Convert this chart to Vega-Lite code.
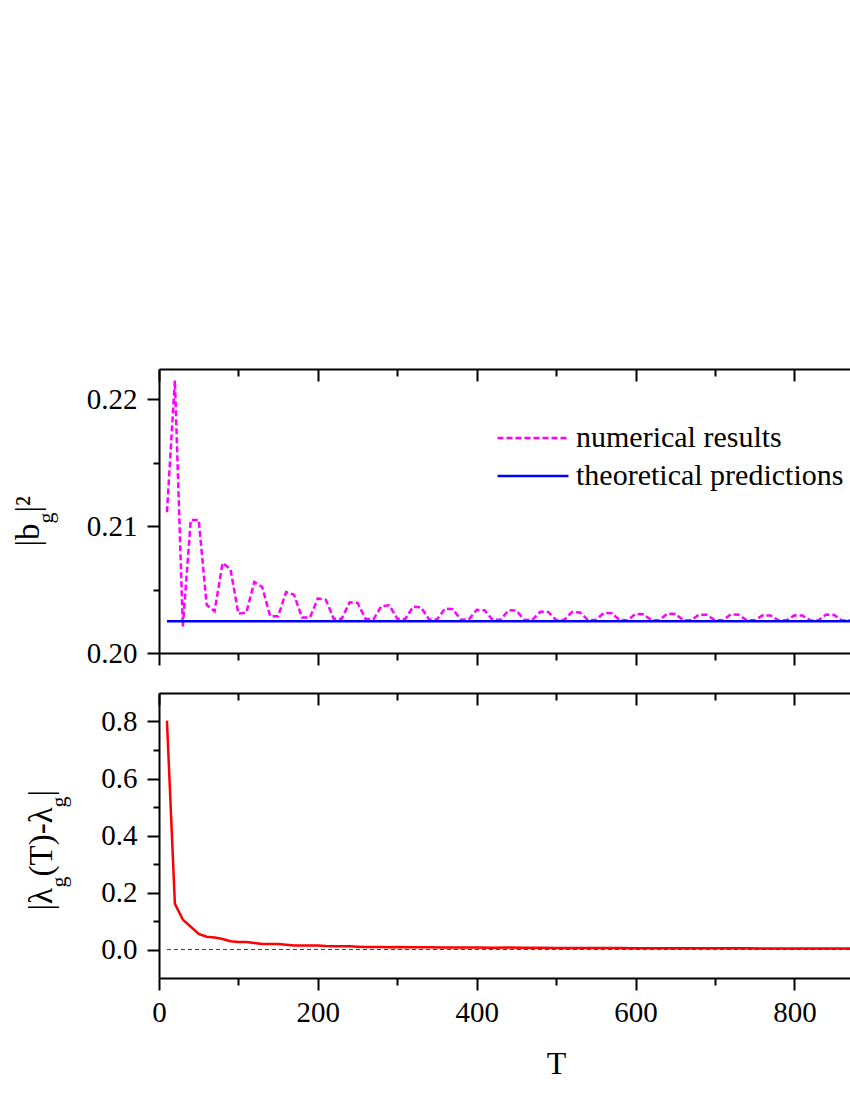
{
  "$schema": "https://vega.github.io/schema/vega-lite/v6.json",
  "background": "white",
  "padding": {"left": 12, "top": 368, "right": 0, "bottom": 0},
  "spacing": 40,
  "bounds": "flush",
  "config": {
    "view": {"stroke": null},
    "font": "Liberation Serif",
    "axis": {
      "grid": false,
      "domainColor": "black",
      "domainWidth": 2,
      "tickColor": "black",
      "tickWidth": 2,
      "labelFont": "Liberation Serif",
      "labelFontSize": 29,
      "labelColor": "black",
      "labelFlush": false,
      "labelOverlap": false,
      "titleFont": "Liberation Serif",
      "titleFontSize": 33,
      "titleFontWeight": "normal",
      "titleColor": "black"
    },
    "legend": {
      "labelFont": "Liberation Serif",
      "labelFontSize": 30,
      "labelColor": "black",
      "labelLimit": 0
    }
  },
  "vconcat": [
    {
      "width": 691,
      "height": 284,
      "data": {
        "values": [
          {"T": 10, "value": 0.2111, "series": "numerical results"},
          {"T": 20, "value": 0.2215, "series": "numerical results"},
          {"T": 30, "value": 0.2021, "series": "numerical results"},
          {"T": 40, "value": 0.2105, "series": "numerical results"},
          {"T": 50, "value": 0.2105, "series": "numerical results"},
          {"T": 60, "value": 0.2038, "series": "numerical results"},
          {"T": 70, "value": 0.2033, "series": "numerical results"},
          {"T": 80, "value": 0.2071, "series": "numerical results"},
          {"T": 90, "value": 0.2066, "series": "numerical results"},
          {"T": 100, "value": 0.2031, "series": "numerical results"},
          {"T": 110, "value": 0.2032, "series": "numerical results"},
          {"T": 120, "value": 0.2056, "series": "numerical results"},
          {"T": 130, "value": 0.2052, "series": "numerical results"},
          {"T": 140, "value": 0.2029, "series": "numerical results"},
          {"T": 150, "value": 0.2029, "series": "numerical results"},
          {"T": 160, "value": 0.2048, "series": "numerical results"},
          {"T": 170, "value": 0.2046, "series": "numerical results"},
          {"T": 180, "value": 0.2028, "series": "numerical results"},
          {"T": 190, "value": 0.2028, "series": "numerical results"},
          {"T": 200, "value": 0.2043, "series": "numerical results"},
          {"T": 210, "value": 0.2042, "series": "numerical results"},
          {"T": 220, "value": 0.2027, "series": "numerical results"},
          {"T": 230, "value": 0.2027, "series": "numerical results"},
          {"T": 240, "value": 0.2040, "series": "numerical results"},
          {"T": 250, "value": 0.20395, "series": "numerical results"},
          {"T": 260, "value": 0.2027, "series": "numerical results"},
          {"T": 270, "value": 0.20266, "series": "numerical results"},
          {"T": 280, "value": 0.2037, "series": "numerical results"},
          {"T": 290, "value": 0.20376, "series": "numerical results"},
          {"T": 300, "value": 0.2027, "series": "numerical results"},
          {"T": 310, "value": 0.20268, "series": "numerical results"},
          {"T": 320, "value": 0.20365, "series": "numerical results"},
          {"T": 330, "value": 0.2036, "series": "numerical results"},
          {"T": 340, "value": 0.20265, "series": "numerical results"},
          {"T": 350, "value": 0.20264, "series": "numerical results"},
          {"T": 360, "value": 0.2035, "series": "numerical results"},
          {"T": 370, "value": 0.20345, "series": "numerical results"},
          {"T": 380, "value": 0.20263, "series": "numerical results"},
          {"T": 390, "value": 0.20265, "series": "numerical results"},
          {"T": 400, "value": 0.2034, "series": "numerical results"},
          {"T": 410, "value": 0.20337, "series": "numerical results"},
          {"T": 420, "value": 0.20262, "series": "numerical results"},
          {"T": 430, "value": 0.20262, "series": "numerical results"},
          {"T": 440, "value": 0.20337, "series": "numerical results"},
          {"T": 450, "value": 0.20335, "series": "numerical results"},
          {"T": 460, "value": 0.20261, "series": "numerical results"},
          {"T": 470, "value": 0.20262, "series": "numerical results"},
          {"T": 480, "value": 0.20325, "series": "numerical results"},
          {"T": 490, "value": 0.20324, "series": "numerical results"},
          {"T": 500, "value": 0.2026, "series": "numerical results"},
          {"T": 510, "value": 0.20261, "series": "numerical results"},
          {"T": 520, "value": 0.20324, "series": "numerical results"},
          {"T": 530, "value": 0.2032, "series": "numerical results"},
          {"T": 540, "value": 0.2026, "series": "numerical results"},
          {"T": 550, "value": 0.2026, "series": "numerical results"},
          {"T": 560, "value": 0.20316, "series": "numerical results"},
          {"T": 570, "value": 0.20314, "series": "numerical results"},
          {"T": 580, "value": 0.2026, "series": "numerical results"},
          {"T": 590, "value": 0.20259, "series": "numerical results"},
          {"T": 600, "value": 0.20308, "series": "numerical results"},
          {"T": 610, "value": 0.20305, "series": "numerical results"},
          {"T": 620, "value": 0.20259, "series": "numerical results"},
          {"T": 630, "value": 0.20259, "series": "numerical results"},
          {"T": 640, "value": 0.20311, "series": "numerical results"},
          {"T": 650, "value": 0.20308, "series": "numerical results"},
          {"T": 660, "value": 0.20259, "series": "numerical results"},
          {"T": 670, "value": 0.20258, "series": "numerical results"},
          {"T": 680, "value": 0.20303, "series": "numerical results"},
          {"T": 690, "value": 0.20301, "series": "numerical results"},
          {"T": 700, "value": 0.20258, "series": "numerical results"},
          {"T": 710, "value": 0.20258, "series": "numerical results"},
          {"T": 720, "value": 0.20305, "series": "numerical results"},
          {"T": 730, "value": 0.20302, "series": "numerical results"},
          {"T": 740, "value": 0.20258, "series": "numerical results"},
          {"T": 750, "value": 0.20258, "series": "numerical results"},
          {"T": 760, "value": 0.20297, "series": "numerical results"},
          {"T": 770, "value": 0.20296, "series": "numerical results"},
          {"T": 780, "value": 0.20257, "series": "numerical results"},
          {"T": 790, "value": 0.20258, "series": "numerical results"},
          {"T": 800, "value": 0.20297, "series": "numerical results"},
          {"T": 810, "value": 0.20296, "series": "numerical results"},
          {"T": 820, "value": 0.20257, "series": "numerical results"},
          {"T": 830, "value": 0.20257, "series": "numerical results"},
          {"T": 840, "value": 0.20303, "series": "numerical results"},
          {"T": 850, "value": 0.203, "series": "numerical results"},
          {"T": 860, "value": 0.20257, "series": "numerical results"},
          {"T": 870, "value": 0.20258, "series": "numerical results"},
          {"T": 10, "value": 0.2025, "series": "theoretical predictions"},
          {"T": 870, "value": 0.2025, "series": "theoretical predictions"}
        ]
      },
      "layer": [
        {
          "mark": {"type": "line", "strokeWidth": 2.5},
          "encoding": {
            "x": {
              "field": "T", "type": "quantitative",
              "scale": {"domain": [0, 870], "nice": false, "zero": false},
              "axis": {
                "orient": "bottom", "title": null, "labels": false,
                "values": [0, 100, 200, 300, 400, 500, 600, 700, 800],
                "tickSize": {"condition": {"test": "datum.value % 200 === 0", "value": 12}, "value": 7}
              }
            },
            "y": {
              "field": "value", "type": "quantitative",
              "scale": {"domain": [0.2, 0.2224], "nice": false, "zero": false},
              "axis": {
                "orient": "left",
                "values": [0.2, 0.205, 0.21, 0.215, 0.22],
                "format": ".2f",
                "labelExpr": "abs(datum.value * 100 - round(datum.value * 100)) < 0.000001 ? datum.label : ''",
                "tickSize": {"condition": {"test": "abs(datum.value * 100 - round(datum.value * 100)) < 0.000001", "value": 12}, "value": 6},
                "labelPadding": 10,
                "title": "|b",
                "titleAngle": -90,
                "titleAlign": "left",
                "titleBaseline": "alphabetic",
                "titleX": -121,
                "titleY": 177
              }
            },
            "color": {
              "field": "series", "type": "nominal",
              "scale": {"domain": ["numerical results", "theoretical predictions"], "range": ["#FF00FF", "#0000FF"]},
              "legend": {
                "orient": "none", "legendX": 359, "legendY": 54, "title": null,
                "symbolType": "M-3,0H3", "symbolSize": 560, "symbolStrokeWidth": 2.5,
                "labelOffset": 28, "rowPadding": 8, "labelFontSize": 30
              }
            },
            "strokeDash": {
              "field": "series", "type": "nominal",
              "scale": {"domain": ["numerical results", "theoretical predictions"], "range": [[6, 3], [1, 0]]},
              "legend": {
                "orient": "none", "legendX": 359, "legendY": 54, "title": null,
                "symbolType": "M-3,0H3", "symbolSize": 560, "symbolStrokeWidth": 2.5,
                "labelOffset": 28, "rowPadding": 8, "labelFontSize": 30
              }
            }
          }
        },
        {
          "mark": {"type": "line", "opacity": 0},
          "encoding": {
            "x": {
              "field": "T", "type": "quantitative",
              "axis": {
                "orient": "top", "title": null, "labels": false,
                "values": [0, 100, 200, 300, 400, 500, 600, 700, 800],
                "tickSize": {"condition": {"test": "datum.value % 200 === 0", "value": -12}, "value": -7}
              }
            },
            "y": {
              "field": "value", "type": "quantitative",
              "axis": {
                "orient": "left", "labels": false, "ticks": false, "domain": false,
                "title": "g", "titleFontSize": 22,
                "titleAngle": -90, "titleAlign": "left", "titleBaseline": "alphabetic",
                "titleX": -107, "titleY": 154
              }
            },
            "detail": {"field": "series"}
          }
        },
        {
          "mark": {"type": "line", "opacity": 0},
          "encoding": {
            "x": {"field": "T", "type": "quantitative", "axis": null},
            "y": {
              "field": "value", "type": "quantitative",
              "axis": {
                "orient": "left", "labels": false, "ticks": false, "domain": false,
                "title": "|²", "titleFontSize": 33,
                "titleAngle": -90, "titleAlign": "left", "titleBaseline": "alphabetic",
                "titleX": -121, "titleY": 143
              }
            },
            "detail": {"field": "series"}
          }
        }
      ],
      "resolve": {"axis": {"x": "independent", "y": "independent"}}
    },
    {
      "width": 691,
      "height": 285,
      "layer": [
        {
          "data": {
            "values": [
              {"T": 10, "err": 0.803}, {"T": 20, "err": 0.160}, {"T": 30, "err": 0.105},
              {"T": 40, "err": 0.080}, {"T": 50, "err": 0.055}, {"T": 60, "err": 0.045},
              {"T": 70, "err": 0.042}, {"T": 80, "err": 0.037}, {"T": 90, "err": 0.029},
              {"T": 100, "err": 0.026}, {"T": 110, "err": 0.026}, {"T": 120, "err": 0.023},
              {"T": 130, "err": 0.019}, {"T": 140, "err": 0.019}, {"T": 150, "err": 0.019},
              {"T": 160, "err": 0.017}, {"T": 170, "err": 0.014}, {"T": 180, "err": 0.014},
              {"T": 190, "err": 0.014}, {"T": 200, "err": 0.014}, {"T": 210, "err": 0.012},
              {"T": 220, "err": 0.011}, {"T": 230, "err": 0.011}, {"T": 240, "err": 0.011},
              {"T": 250, "err": 0.010}, {"T": 260, "err": 0.009}, {"T": 270, "err": 0.009},
              {"T": 280, "err": 0.009}, {"T": 290, "err": 0.008}, {"T": 300, "err": 0.009},
              {"T": 320, "err": 0.008}, {"T": 340, "err": 0.008}, {"T": 360, "err": 0.007},
              {"T": 380, "err": 0.007}, {"T": 400, "err": 0.007}, {"T": 420, "err": 0.006},
              {"T": 440, "err": 0.007}, {"T": 460, "err": 0.006}, {"T": 480, "err": 0.006},
              {"T": 500, "err": 0.0055}, {"T": 520, "err": 0.005}, {"T": 540, "err": 0.0055},
              {"T": 560, "err": 0.005}, {"T": 580, "err": 0.005}, {"T": 600, "err": 0.0045},
              {"T": 620, "err": 0.0045}, {"T": 640, "err": 0.0045}, {"T": 660, "err": 0.004},
              {"T": 680, "err": 0.0045}, {"T": 700, "err": 0.004}, {"T": 720, "err": 0.004},
              {"T": 740, "err": 0.004}, {"T": 760, "err": 0.0038}, {"T": 780, "err": 0.0037},
              {"T": 800, "err": 0.0037}, {"T": 820, "err": 0.0036}, {"T": 840, "err": 0.0035},
              {"T": 860, "err": 0.0035}, {"T": 870, "err": 0.0035}
            ]
          },
          "mark": {"type": "line", "color": "#FF0000", "strokeWidth": 2.5},
          "encoding": {
            "x": {
              "field": "T", "type": "quantitative",
              "scale": {"domain": [0, 870], "nice": false, "zero": false},
              "axis": {
                "orient": "bottom", "title": "T",
                "values": [0, 100, 200, 300, 400, 500, 600, 700, 800],
                "labelExpr": "datum.value % 200 === 0 ? datum.label : ''",
                "tickSize": {"condition": {"test": "datum.value % 200 === 0", "value": 12}, "value": 7},
                "labelPadding": 8,
                "titleFontSize": 32,
                "titleAlign": "center",
                "titleBaseline": "middle",
                "titleX": 397,
                "titleY": 85
              }
            },
            "y": {
              "field": "err", "type": "quantitative",
              "scale": {"domain": [-0.1, 0.9], "nice": false, "zero": false},
              "axis": {
                "orient": "left",
                "values": [0, 0.1, 0.2, 0.3, 0.4, 0.5, 0.6, 0.7, 0.8],
                "format": ".1f",
                "labelExpr": "abs(datum.value * 5 - round(datum.value * 5)) < 0.000001 ? datum.label : ''",
                "tickSize": {"condition": {"test": "abs(datum.value * 5 - round(datum.value * 5)) < 0.000001", "value": 12}, "value": 6},
                "labelPadding": 10,
                "title": "|λ",
                "titleAngle": -90, "titleAlign": "left", "titleBaseline": "alphabetic",
                "titleX": -108, "titleY": 217
              }
            }
          }
        },
        {
          "data": {"values": [{"T": 10, "T2": 870, "err": 0}]},
          "mark": {"type": "rule", "color": "#444444", "strokeWidth": 1.2, "strokeDash": [4, 3]},
          "encoding": {
            "x": {"field": "T", "type": "quantitative", "axis": null},
            "x2": {"field": "T2"},
            "y": {
              "field": "err", "type": "quantitative",
              "axis": {
                "orient": "left", "labels": false, "ticks": false, "domain": false,
                "title": "g", "titleFontSize": 22,
                "titleAngle": -90, "titleAlign": "left", "titleBaseline": "alphabetic",
                "titleX": -94, "titleY": 194
              }
            }
          }
        },
        {
          "data": {"values": [{"T": 0, "err": 0}, {"T": 870, "err": 0}]},
          "mark": {"type": "line", "opacity": 0},
          "encoding": {
            "x": {
              "field": "T", "type": "quantitative",
              "axis": {
                "orient": "top", "title": null, "labels": false,
                "values": [0, 100, 200, 300, 400, 500, 600, 700, 800],
                "tickSize": {"condition": {"test": "datum.value % 200 === 0", "value": -12}, "value": -7}
              }
            },
            "y": {
              "field": "err", "type": "quantitative",
              "axis": {
                "orient": "left", "labels": false, "ticks": false, "domain": false,
                "title": "(T)-λ", "titleFontSize": 33,
                "titleAngle": -90, "titleAlign": "left", "titleBaseline": "alphabetic",
                "titleX": -108, "titleY": 183
              }
            }
          }
        },
        {
          "data": {"values": [{"T": 0, "err": 0}, {"T": 870, "err": 0}]},
          "mark": {"type": "line", "opacity": 0},
          "encoding": {
            "x": {"field": "T", "type": "quantitative", "axis": null},
            "y": {
              "field": "err", "type": "quantitative",
              "axis": {
                "orient": "left", "labels": false, "ticks": false, "domain": false,
                "title": "g", "titleFontSize": 22,
                "titleAngle": -90, "titleAlign": "left", "titleBaseline": "alphabetic",
                "titleX": -94, "titleY": 114
              }
            }
          }
        },
        {
          "data": {"values": [{"T": 0, "err": 0}, {"T": 870, "err": 0}]},
          "mark": {"type": "line", "opacity": 0},
          "encoding": {
            "x": {"field": "T", "type": "quantitative", "axis": null},
            "y": {
              "field": "err", "type": "quantitative",
              "axis": {
                "orient": "left", "labels": false, "ticks": false, "domain": false,
                "title": "|", "titleFontSize": 33,
                "titleAngle": -90, "titleAlign": "left", "titleBaseline": "alphabetic",
                "titleX": -108, "titleY": 103
              }
            }
          }
        }
      ],
      "resolve": {"axis": {"x": "independent", "y": "independent"}}
    }
  ]
}
